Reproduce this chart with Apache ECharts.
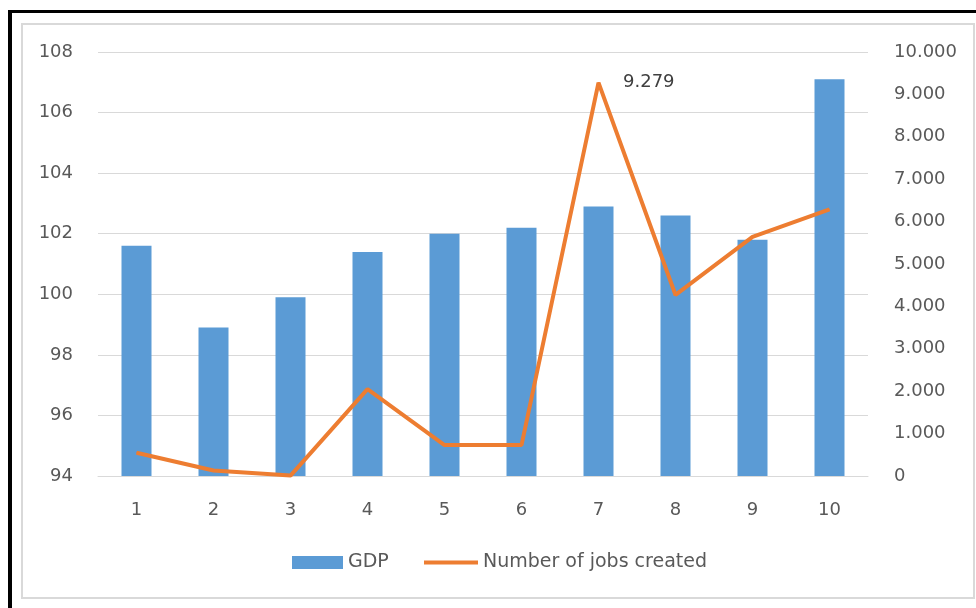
<!DOCTYPE html>
<html>
<head>
<meta charset="utf-8">
<script src="https://cdn.jsdelivr.net/npm/echarts@6/dist/echarts.min.js"></script>
<style>
  html, body { margin: 0; padding: 0; background: #fff; }
  #wrap { position: relative; width: 976px; height: 608px; overflow: hidden; }
  .outer { position: absolute; left: 8px; top: 10px; right: -10px; bottom: -10px;
           border-left: 4px solid #000; border-top: 3px solid #000; }
  .inner { position: absolute; left: 21px; top: 23px; width: 950px; height: 572px;
           border: 2px solid #d9d9d9; }
  #main { position: absolute; left: 0; top: 0; width: 976px; height: 608px; }
</style>
</head>
<body>
<div id="wrap">
  <div class="outer"></div>
  <div class="inner"></div>
  <div id="main"></div>
</div>
<script>
// categories and values
const categories = ['1', '2', '3', '4', '5', '6', '7', '8', '9', '10'];
const gdp = [101.6, 98.9, 99.9, 101.4, 102.0, 102.2, 102.9, 102.6, 101.8, 107.1];
const jobs = [550, 130, 10, 2050, 730, 730, 9279, 4270, 5640, 6290];
const labelledIndex = 6;

// 9279 -> "9.279"
function dotThousands(v) {
  return String(Math.round(v)).replace(/\B(?=(\d{3})+(?!\d))/g, '.');
}

const textColor = '#595959';
const fontFamily = 'DejaVu Sans';

let myChart = echarts.init(document.getElementById('main'));
let option = {
  animation: false,
  textStyle: { fontFamily: fontFamily },
  grid: { left: 98, right: 108, top: 52, bottom: 132 },
  legend: [
    {
      data: ['GDP'],
      left: 287, top: 548,
      itemWidth: 51, itemHeight: 13, icon: 'rect',
      textStyle: { color: textColor, fontSize: 19, fontFamily: fontFamily }
    },
    {
      data: ['Number of jobs created'],
      left: 419, top: 548,
      itemWidth: 54, itemHeight: 4, icon: 'rect',
      textStyle: { color: textColor, fontSize: 19, fontFamily: fontFamily }
    }
  ],
  xAxis: {
    type: 'category',
    data: categories,
    axisTick: { show: false },
    axisLine: { lineStyle: { color: '#d9d9d9', width: 1 } },
    axisLabel: { color: textColor, fontSize: 18, margin: 25 }
  },
  yAxis: [
    {
      type: 'value',
      min: 94, max: 108, interval: 2,
      axisLine: { show: false },
      axisTick: { show: false },
      axisLabel: { color: textColor, fontSize: 18, margin: 25 },
      splitLine: { lineStyle: { color: '#d9d9d9', width: 1 } }
    },
    {
      type: 'value',
      min: 0, max: 10000, interval: 1000,
      axisLine: { show: false },
      axisTick: { show: false },
      splitLine: { show: false },
      axisLabel: { color: textColor, fontSize: 18, margin: 26, formatter: dotThousands }
    }
  ],
  series: [
    {
      name: 'GDP',
      type: 'bar',
      data: gdp,
      barWidth: 30,
      itemStyle: { color: '#5b9bd5' }
    },
    {
      name: 'Number of jobs created',
      type: 'line',
      yAxisIndex: 1,
      data: jobs,
      symbol: 'circle',
      symbolSize: 1,
      showSymbol: true,
      itemStyle: { color: '#ed7d31' },
      lineStyle: { color: '#ed7d31', width: 4 },
      label: {
        show: true,
        position: 'right',
        distance: 24,
        color: '#404040',
        fontSize: 18,
        formatter: p => p.dataIndex === labelledIndex ? dotThousands(p.value) : ''
      }
    }
  ]
};
myChart.setOption(option);
</script>
</body>
</html>
